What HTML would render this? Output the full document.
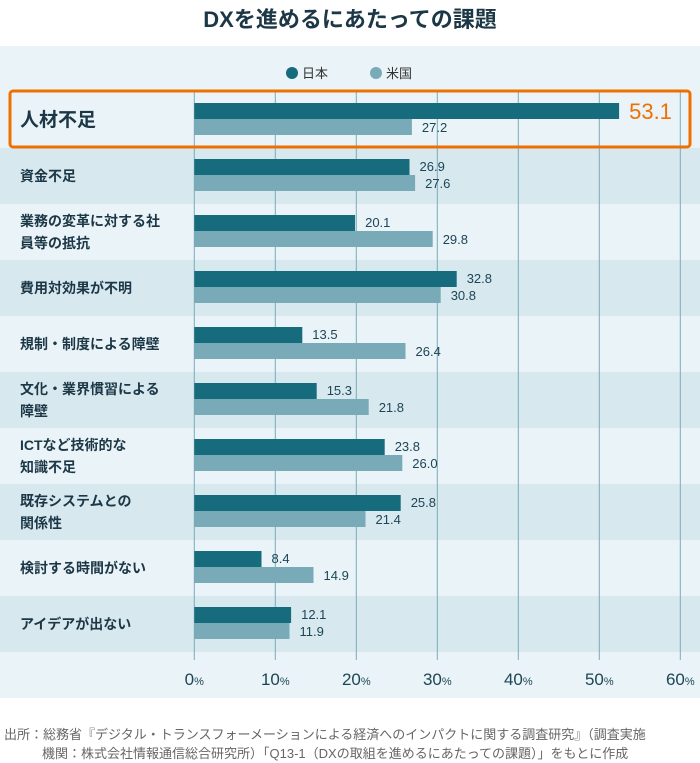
<!DOCTYPE html>
<html><head><meta charset="utf-8"><style>
body{margin:0;width:700px;height:763px;background:#fff;font-family:"Liberation Sans","Noto Sans CJK JP",sans-serif;position:relative;overflow:hidden}
.title{position:absolute;top:2px;left:0;width:700px;text-align:center;font-size:22px;font-weight:bold;color:#1c3746}
.foot{position:absolute;left:4px;top:725px;font-size:13px;color:#666;line-height:19px;white-space:nowrap}
</style></head><body>
<div class="title">DXを進めるにあたっての課題</div>
<svg id="chart" width="700" height="763" style="position:absolute;left:0;top:0"></svg>
<div class="foot">出所：総務省『デジタル・トランスフォーメーションによる経済へのインパクトに関する調査研究』（調査実施<br><span style="padding-left:38px">機関：株式会社情報通信総合研究所）「Q13-1（DXの取組を進めるにあたっての課題）」をもとに作成</span></div>
<script>
const categories=[["人材不足"],["資金不足"],["業務の変革に対する社","員等の抵抗"],["費用対効果が不明"],["規制・制度による障壁"],["文化・業界慣習による","障壁"],["ICTなど技術的な","知識不足"],["既存システムとの","関係性"],["検討する時間がない"],["アイデアが出ない"]];
const japan=[53.1,26.9,20.1,32.8,13.5,15.3,23.8,25.8,8.4,12.1];
const usa=[27.2,27.6,29.8,30.8,26.4,21.8,26.0,21.4,14.9,11.9];
const ticks=[0,10,20,30,40,50,60];
const NS="http://www.w3.org/2000/svg";
const svg=document.getElementById('chart');
const x=v=>194.3+v*8.1;
const xb=v=>194.3+v*8.0;
const rowC=i=>120+i*56;
function mk(t,a){const e=document.createElementNS(NS,t);for(const k in a)e.setAttribute(k,a[k]);svg.appendChild(e);return e;}
let p=mk('rect',{x:0,y:46,width:700,height:652,fill:'#eaf3f7'});


categories.forEach((c,i)=>{if(i%2==1){const b=mk('rect',{x:0,y:rowC(i)-28,width:700,height:56,fill:'#d8e8ef'});

}});
ticks.forEach(t=>{const l=mk('line',{x1:x(t),x2:x(t),y1:92,y2:660,stroke:'#7aabb9','stroke-width':1});


const tx=mk('text',{x:x(t),y:685,'text-anchor':'middle','font-size':17,fill:'#1c4656'});


tx.innerHTML=t+'<tspan font-size="11">%</tspan>';});
categories.forEach((c,i)=>{const cy=rowC(i);
const big=i===0;
const lab=mk('text',{x:20,y:big?cy+6:(c.length>1?cy-6:cy+5),'font-size':big?19:14,'font-weight':'bold',fill:'#1c3746'});


c.forEach((s,j)=>{const ts=document.createElementNS(NS,'tspan');ts.setAttribute('x',20);if(j)ts.setAttribute('dy',22);ts.textContent=s;lab.appendChild(ts);});
const bj=mk('rect',{x:xb(0),y:cy-17,width:xb(japan[i])-xb(0),height:16,fill:'#166b7d'});


const bu=mk('rect',{x:xb(0),y:cy-1,width:xb(usa[i])-xb(0),height:16,fill:'#79aab7'});


const vj=mk('text',{x:xb(japan[i])+(big?10:10),y:big?cy-1:cy-5,'font-size':big?22:13,fill:big?'#ee7000':'#1c4656'});


vj.textContent=japan[i].toFixed(1);
const vu=mk('text',{x:xb(usa[i])+10,y:cy+12,'font-size':13,fill:'#1c4656'});


vu.textContent=usa[i].toFixed(1);});
const hb=mk('rect',{x:10,y:91,width:680,height:56,rx:3,fill:'none',stroke:'#ee7000','stroke-width':3});


const l1=mk('circle',{cx:292,cy:73,r:6,fill:'#166b7d'});


const t1=mk('text',{x:302,y:78,'font-size':13,fill:'#333'});


t1.textContent='日本';
const l2=mk('circle',{cx:376,cy:73,r:6,fill:'#79aab7'});


const t2=mk('text',{x:386,y:78,'font-size':13,fill:'#333'});


t2.textContent='米国';
</script>
</body></html>
